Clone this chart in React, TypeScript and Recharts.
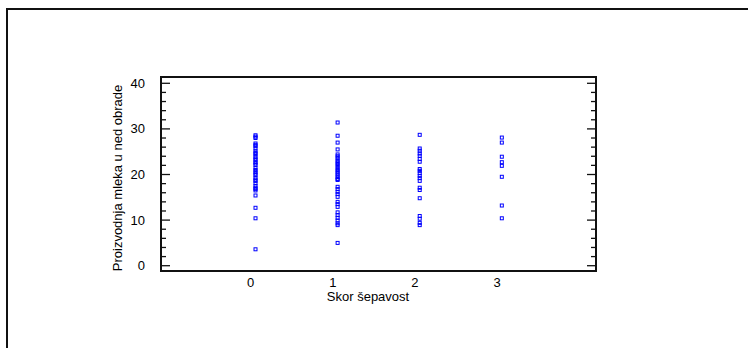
import React from 'react';
import { ScatterChart, Scatter, XAxis, YAxis, ReferenceArea } from 'recharts';

const categories = [0, 1, 2, 3];
const score0 = [28.6, 28.3, 28.0, 26.8, 26.5, 26.2, 25.7, 25.1, 24.7, 24.4, 23.9, 23.5, 23.2, 22.7, 22.4, 22.1, 21.4, 21.0, 20.6, 20.2, 19.9, 19.3, 18.9, 18.6, 18.1, 17.5, 17.1, 16.8, 16.5, 15.4, 12.7, 10.4, 3.6];
const score1 = [31.4, 28.5, 27.0, 25.5, 24.4, 24.0, 23.6, 23.1, 22.7, 22.3, 21.9, 21.4, 21.0, 20.6, 20.2, 19.8, 19.4, 19.0, 18.8, 17.3, 16.8, 16.2, 15.7, 15.1, 14.0, 13.5, 12.9, 11.7, 11.1, 10.5, 9.9, 9.3, 8.9, 5.0];
const score2 = [28.7, 25.7, 25.2, 24.6, 24.1, 23.4, 22.8, 21.2, 20.8, 20.3, 19.7, 19.2, 18.6, 17.1, 16.6, 14.8, 10.9, 10.3, 9.4, 8.9];
const score3 = [28.1, 27.0, 23.9, 22.7, 21.9, 19.5, 13.2, 10.4];
const valuesByScore = [score0, score1, score2, score3];

const xTicks = [0, 1, 2, 3];
const yTicks = [0, 2, 4, 6, 8, 10, 12, 14, 16, 18, 20, 22, 24, 26, 28, 30, 32, 34, 36, 38, 40];
const yMajorTicks = [0, 10, 20, 30, 40];
const xTitle = 'Skor šepavost';
const yTitle = 'Proizvodnja mleka u ned obrade';

const X_DOMAIN: [number, number] = [-1.151, 4.147];
const Y_DOMAIN: [number, number] = [-1.16, 41.38];

const data = categories.flatMap((c, i) => valuesByScore[i].map((v) => ({ x: c, y: v })));

const FONT = "'Liberation Sans', Arial, Helvetica, sans-serif";
const INK = '#111';

const SquareMarker = (props: any) => {
  const { cx, cy } = props;
  if (cx == null || cy == null) return null;
  return <rect x={cx - 1.5} y={cy - 1.5} width={3} height={3} fill="none" stroke="#0000ff" strokeWidth={1} />;
};

const LeftTick = (props: any) => {
  const { x, y, payload } = props;
  const major = yMajorTicks.includes(payload.value);
  return (
    <g>
      <line x1={x} x2={x + (major ? 9 : 5)} y1={y} y2={y} stroke={INK} strokeWidth={1.3} />
      {major && (
        <text x={x - 16} y={y + 4.6} textAnchor="end" fontSize={13} fontFamily={FONT} fill="#000">
          {payload.value}
        </text>
      )}
    </g>
  );
};

const RightTick = (props: any) => {
  const { x, y, payload } = props;
  const major = yMajorTicks.includes(payload.value);
  return <line x1={x} x2={x - (major ? 9 : 5)} y1={y} y2={y} stroke={INK} strokeWidth={1.3} />;
};

const BottomTick = (props: any) => {
  const { x, y, payload } = props;
  return (
    <text x={x - 4.8} y={y + 16} textAnchor="middle" fontSize={13} fontFamily={FONT} fill="#000">
      {payload.value}
    </text>
  );
};

export default function App() {
  return (
    <div style={{ position: 'absolute', left: 0, top: 0, width: 754, height: 348, background: '#fff' }}>
      <div style={{ position: 'absolute', left: 0, top: 0 }}>
        <ScatterChart width={754} height={348} margin={{ top: 77, right: 157, bottom: 47, left: 111 }}>
          <XAxis
            type="number"
            dataKey="x"
            domain={X_DOMAIN}
            allowDataOverflow
            ticks={xTicks}
            height={30}
            axisLine={false}
            tickLine={false}
            tickSize={0}
            tickMargin={0}
            tick={<BottomTick />}
            interval={0}
          />
          <YAxis
            yAxisId="l"
            type="number"
            dataKey="y"
            domain={Y_DOMAIN}
            allowDataOverflow
            ticks={yTicks}
            width={50}
            axisLine={false}
            tickLine={false}
            tickSize={0}
            tickMargin={0}
            tick={<LeftTick />}
            interval={0}
          />
          <YAxis
            yAxisId="r"
            orientation="right"
            type="number"
            domain={Y_DOMAIN}
            allowDataOverflow
            ticks={yTicks}
            width={1}
            axisLine={false}
            tickLine={false}
            tickSize={0}
            tickMargin={0}
            tick={<RightTick />}
            interval={0}
          />
          <ReferenceArea
            yAxisId="l"
            x1={X_DOMAIN[0]}
            x2={X_DOMAIN[1]}
            y1={Y_DOMAIN[0]}
            y2={Y_DOMAIN[1]}
            fill="none"
            stroke={INK}
            strokeWidth={2}
            ifOverflow="visible"
          />
          <Scatter yAxisId="l" data={data} shape={SquareMarker} isAnimationActive={false} />
        </ScatterChart>
      </div>
      <svg width={754} height={348} style={{ position: 'absolute', left: 0, top: 0, pointerEvents: 'none' }}>
        <line x1={7} x2={7} y1={8} y2={348} stroke={INK} strokeWidth={2} />
        <line x1={6} x2={748} y1={9} y2={9} stroke={INK} strokeWidth={2} />
        <text x={122} y={178} transform="rotate(-90 122 178)" textAnchor="middle" fontSize={13} fontFamily={FONT} fill="#000">
          {yTitle}
        </text>
        <text x={368} y={301} textAnchor="middle" fontSize={13} fontFamily={FONT} fill="#000">
          {xTitle}
        </text>
      </svg>
    </div>
  );
}
